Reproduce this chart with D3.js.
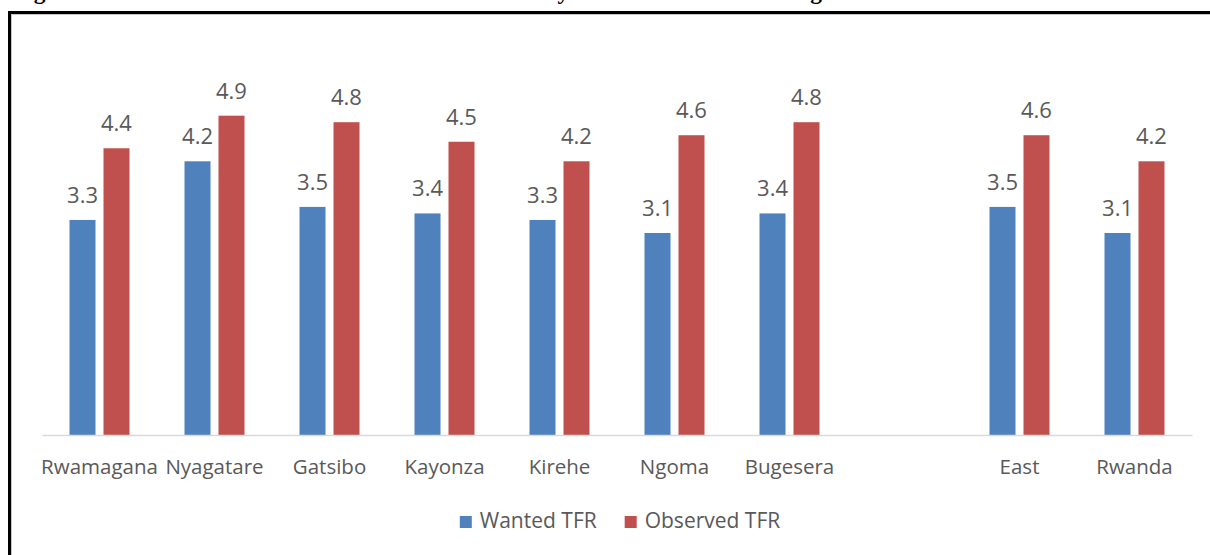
<!DOCTYPE html>
<html>
<head>
<meta charset="utf-8">
<script src="https://cdn.jsdelivr.net/npm/d3@7"></script>
<style>
  html, body { margin: 0; padding: 0; background: #fff; overflow: hidden; }
  svg { display: block; }
</style>
</head>
<body>
<svg id="chart" width="1210" height="555"></svg>
<script>
// ---- data ----
const titleText = "Figure 11: The Wanted and the Observed Total Fertility Rates in the Eastern Region";
const categories = ["Rwamagana", "Nyagatare", "Gatsibo", "Kayonza", "Kirehe", "Ngoma", "Bugesera", "", "East", "Rwanda"];
const wantedTFR = [3.3, 4.2, 3.5, 3.4, 3.3, 3.1, 3.4, null, 3.5, 3.1];
const observedTFR = [4.4, 4.9, 4.8, 4.5, 4.2, 4.6, 4.8, null, 4.6, 4.2];
const seriesNames = ["Wanted TFR", "Observed TFR"];
const seriesColors = ["#4F81BD", "#C0504D"];
const yMax = 6;

// ---- layout ----
const svg = d3.select("#chart");
const W = 1210, H = 555;
const plot = { left: 42, right: 1192, top: 44, bottom: 435 };
const textColor = "#595959";
const font = "'Open Sans', sans-serif";

// title (mostly cut off above the frame)
svg.append("text")
  .attr("x", 13).attr("y", -1)
  .attr("font-family", "'Liberation Serif', serif")
  .attr("font-weight", "bold")
  .attr("font-size", 23.4)
  .attr("fill", "#000")
  .text(titleText);

// frame
svg.append("rect")
  .attr("x", 9.5).attr("y", 12.5)
  .attr("width", W + 20).attr("height", H + 20)
  .attr("fill", "none").attr("stroke", "#000").attr("stroke-width", 3);
svg.append("rect")
  .attr("x", 11.5).attr("y", 14.5)
  .attr("width", W + 20).attr("height", H + 20)
  .attr("fill", "none").attr("stroke", "#c8c8c8").attr("stroke-width", 1);

// scales
const idx = categories.map((d, i) => i);
const x0 = d3.scaleBand().domain(idx).range([plot.left, plot.right]).paddingInner(0).paddingOuter(0);
const groupW = 60;
const x1 = d3.scaleBand().domain([0, 1]).range([0, groupW]).paddingInner(0.235).paddingOuter(0);
const y = d3.scaleLinear().domain([0, yMax]).range([plot.bottom, plot.top]);

const rows = idx.map(i => ({ i, vals: [wantedTFR[i], observedTFR[i]] }));

// bars
const g = svg.append("g");
const groups = g.selectAll("g.cat").data(rows).join("g")
  .attr("class", "cat")
  .attr("transform", d => `translate(${x0(d.i) + (x0.bandwidth() - groupW) / 2},0)`);

groups.selectAll("rect").data(d => d.vals.map((v, s) => ({ v, s })).filter(e => e.v != null)).join("rect")
  .attr("x", e => x1(e.s))
  .attr("width", x1.bandwidth())
  .attr("y", e => y(e.v))
  .attr("height", e => y(0) - y(e.v))
  .attr("fill", e => seriesColors[e.s]);

groups.selectAll("text.val").data(d => d.vals.map((v, s) => ({ v, s })).filter(e => e.v != null)).join("text")
  .attr("class", "val")
  .attr("x", e => x1(e.s) + x1.bandwidth() / 2)
  .attr("y", e => y(e.v) - 17)
  .attr("text-anchor", "middle")
  .attr("font-family", font)
  .attr("font-size", 22)
  .attr("fill", textColor)
  .text(e => e.v.toFixed(1));

// x axis
const axis = d3.axisBottom(x0).tickSizeInner(0).tickSizeOuter(0).tickPadding(24)
  .tickFormat(i => categories[i]);
const ax = svg.append("g").attr("transform", `translate(0,${plot.bottom})`).call(axis);
ax.select(".domain").attr("stroke", "#d9d9d9").attr("stroke-width", 1.3);
ax.selectAll(".tick text")
  .attr("font-family", font)
  .attr("font-size", 20.5)
  .attr("fill", textColor);

// legend
const leg = svg.append("g");
const items = leg.selectAll("g").data(seriesNames).join("g");
items.append("rect").attr("width", 12).attr("height", 12).attr("y", -12)
  .attr("fill", (d, i) => seriesColors[i]);
items.append("text").attr("x", 20).attr("y", 0)
  .attr("font-family", font).attr("font-size", 21).attr("fill", textColor)
  .text(d => d);
let cx = 0;
const gap = 28;
const widths = [];
items.each(function () {
  widths.push(20 + d3.select(this).select("text").node().getComputedTextLength());
});
const total = d3.sum(widths) + gap * (widths.length - 1);
let start = (plot.left + plot.right) / 2 - total / 2 + 3;
items.attr("transform", (d, i) => {
  const t = `translate(${start},528)`;
  start += widths[i] + gap;
  return t;
});
</script>
</body>
</html>
